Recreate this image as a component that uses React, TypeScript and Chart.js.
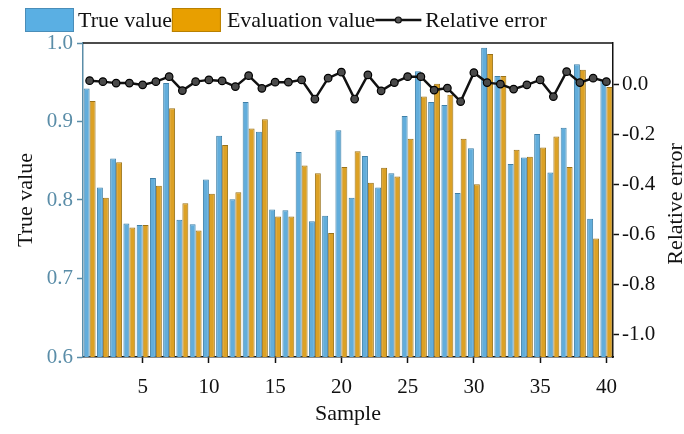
import React, { useEffect, useRef } from "react";
import { Chart, registerables } from "chart.js";

Chart.register(...registerables);

const samples = [
  "1", "2", "3", "4", "5", "6", "7", "8", "9", "10",
  "11", "12", "13", "14", "15", "16", "17", "18", "19", "20",
  "21", "22", "23", "24", "25", "26", "27", "28", "29", "30",
  "31", "32", "33", "34", "35", "36", "37", "38", "39", "40",
];

const trueValues = [
  0.942, 0.816, 0.853, 0.770, 0.768, 0.828, 0.949, 0.775, 0.769, 0.826,
  0.882, 0.801, 0.925, 0.887, 0.788, 0.787, 0.861, 0.773, 0.780, 0.889,
  0.803, 0.856, 0.816, 0.834, 0.907, 0.964, 0.925, 0.921, 0.809, 0.866,
  0.994, 0.958, 0.846, 0.854, 0.884, 0.835, 0.892, 0.973, 0.776, 0.953,
];

const evaluationValues = [
  0.926, 0.803, 0.848, 0.765, 0.768, 0.818, 0.917, 0.796, 0.761, 0.808,
  0.870, 0.810, 0.891, 0.903, 0.779, 0.779, 0.844, 0.834, 0.758, 0.842,
  0.862, 0.822, 0.841, 0.830, 0.878, 0.932, 0.948, 0.934, 0.878, 0.820,
  0.986, 0.958, 0.864, 0.855, 0.867, 0.881, 0.842, 0.966, 0.751, 0.944,
];

const relativeErrors = [
  0.017, 0.013, 0.007, 0.007, 0.0, 0.013, 0.033, -0.023, 0.013, 0.02,
  0.016, -0.007, 0.037, -0.014, 0.011, 0.011, 0.02, -0.057, 0.027, 0.051,
  -0.057, 0.04, -0.024, 0.009, 0.033, 0.033, -0.021, -0.013, -0.067, 0.049,
  0.009, 0.003, -0.017, 0.0, 0.02, -0.047, 0.053, 0.009, 0.027, 0.013,
];

const leftTicks = [0.6, 0.7, 0.8, 0.9, 1.0];
const rightTicks = [-1.0, -0.8, -0.6, -0.4, -0.2, 0.0];

const SERIF = "'Liberation Serif', 'Times New Roman', 'DejaVu Serif', serif";
const BLUE = "#62ADDB";
const BLUE_BORDER = "#3F80A8";
const ORANGE = "#DCA125";
const ORANGE_BORDER = "#9A7218";
const LEFT_AXIS = "#5A8DA8";

const decorPlugin = {
  id: "decor",
  afterDraw(chart: any) {
    const ctx = chart.ctx;
    const area = chart.chartArea;
    ctx.save();
    // top frame line
    ctx.strokeStyle = "#111";
    ctx.lineWidth = 1.5;
    ctx.beginPath();
    ctx.moveTo(area.left, area.top);
    ctx.lineTo(area.right, area.top);
    ctx.stroke();

    // right axis title (reads bottom to top)
    ctx.fillStyle = "#111";
    ctx.font = `22px ${SERIF}`;
    ctx.textAlign = "center";
    ctx.textBaseline = "middle";
    ctx.translate(676, (area.top + area.bottom) / 2 + 4);
    ctx.rotate(-Math.PI / 2);
    ctx.fillText("Relative error", 0, 0);
    ctx.restore();

    // legend
    ctx.save();
    ctx.font = `22px ${SERIF}`;
    ctx.textAlign = "left";
    ctx.textBaseline = "middle";
    const ds = chart.data.datasets;
    const yMid = 20;
    let x = 25;
    const legendFill = ["#5AAFE3", "#E89F00"];
    const legendStroke = ["#4A8DB8", "#B98000"];
    for (let i = 0; i < 2; i++) {
      const w = 49;
      ctx.fillStyle = legendFill[i];
      ctx.fillRect(x, 8, w, 24);
      ctx.strokeStyle = legendStroke[i];
      ctx.lineWidth = 1;
      ctx.strokeRect(x + 0.5, 8.5, w - 1, 23);
      x += w + (i === 0 ? 4 : 6);
      ctx.fillStyle = "#111";
      ctx.fillText(ds[i].label, x, yMid + 1);
      x += ctx.measureText(ds[i].label).width;
    }
    ctx.strokeStyle = "#111";
    ctx.lineWidth = 2.5;
    ctx.beginPath();
    ctx.moveTo(x, yMid);
    ctx.lineTo(x + 46, yMid);
    ctx.stroke();
    ctx.beginPath();
    ctx.arc(x + 23, yMid, 3, 0, Math.PI * 2);
    ctx.fillStyle = "#555";
    ctx.fill();
    ctx.lineWidth = 1.2;
    ctx.stroke();
    x += 50;
    ctx.fillStyle = "#111";
    ctx.fillText(ds[2].label, x, yMid + 1);
    ctx.restore();
  },
};

export default function App() {
  const ref = useRef<HTMLCanvasElement>(null);

  useEffect(() => {
    document.body.style.margin = "0";
    const canvas = ref.current!;
    const chart = new Chart(canvas, {
      type: "bar",
      data: {
        labels: samples,
        datasets: [
          {
            type: "bar",
            label: "True value",
            data: trueValues,
            backgroundColor: BLUE,
            borderColor: BLUE_BORDER,
            borderWidth: 1,
            yAxisID: "y",
            order: 2,
            barPercentage: 1.0,
            categoryPercentage: 0.9,
          },
          {
            type: "bar",
            label: "Evaluation value",
            data: evaluationValues,
            backgroundColor: ORANGE,
            borderColor: ORANGE_BORDER,
            borderWidth: 1,
            yAxisID: "y",
            order: 2,
            barPercentage: 1.0,
            categoryPercentage: 0.9,
          },
          {
            type: "line",
            label: "Relative error",
            data: relativeErrors,
            borderColor: "#111",
            borderWidth: 2.5,
            pointRadius: 3.8,
            pointBackgroundColor: "#4a4a4a",
            pointBorderColor: "#000",
            pointBorderWidth: 1.2,
            tension: 0,
            yAxisID: "y1",
            order: 0,
          },
        ],
      } as any,
      options: {
        responsive: false,
        animation: false,
        devicePixelRatio: 1,
        layout: { padding: { top: 43, left: 0, right: 0, bottom: 0 } },
        plugins: {
          legend: { display: false },
          tooltip: { enabled: false },
        },
        scales: {
          x: {
            offset: true,
            afterFit: (s: any) => { s.height = 77; },
            grid: {
              offset: false,
              drawOnChartArea: false,
              drawTicks: true,
              tickLength: 6,
              tickWidth: 1.5,
              tickColor: (c: any) => ((c.index + 1) % 5 === 0 ? "#111" : "rgba(0,0,0,0)"),
            },
            border: { color: "#111", width: 1.5 },
            ticks: {
              autoSkip: false,
              maxRotation: 0,
              padding: 12,
              color: "#111",
              font: { family: SERIF, size: 21 },
              callback: (_v: any, i: number) => ((i + 1) % 5 === 0 ? samples[i] : ""),
            },
            title: {
              display: true,
              text: "Sample",
              color: "#111",
              font: { family: SERIF, size: 22 },
              padding: { top: 0, bottom: 7 },
            },
          },
          y: {
            position: "left",
            min: leftTicks[0],
            max: leftTicks[leftTicks.length - 1],
            afterFit: (s: any) => { s.width = 83; },
            afterBuildTicks: (s: any) => { s.ticks = leftTicks.map((v) => ({ value: v })); },
            grid: {
              drawOnChartArea: false,
              tickLength: 6,
              tickWidth: 1.5,
              tickColor: LEFT_AXIS,
            },
            border: { color: LEFT_AXIS, width: 1.5 },
            ticks: {
              padding: 4,
              color: LEFT_AXIS,
              font: { family: SERIF, size: 21 },
              callback: (v: any) => Number(v).toFixed(1),
            },
            title: {
              display: true,
              text: "True value",
              color: "#111",
              font: { family: SERIF, size: 22 },
              padding: { top: 13, bottom: 0 },
            },
          },
          y1: {
            position: "right",
            min: -1.092,
            max: 0.168,
            afterFit: (s: any) => { s.width = 71; },
            afterBuildTicks: (s: any) => { s.ticks = rightTicks.map((v) => ({ value: v })); },
            grid: {
              drawOnChartArea: false,
              tickLength: 6,
              tickWidth: 1.5,
              tickColor: "#111",
            },
            border: { color: "#111", width: 1.5 },
            ticks: {
              padding: 3,
              color: "#111",
              font: { family: SERIF, size: 21 },
              callback: (v: any) => (Math.abs(v) < 1e-9 ? "0.0" : Number(v).toFixed(1)),
            },
          },
        },
      } as any,
      plugins: [decorPlugin],
    });
    return () => chart.destroy();
  }, []);

  return (
    <div style={{ width: 684, height: 434 }}>
      <canvas ref={ref} width={684} height={434} style={{ display: "block" }} />
    </div>
  );
}
